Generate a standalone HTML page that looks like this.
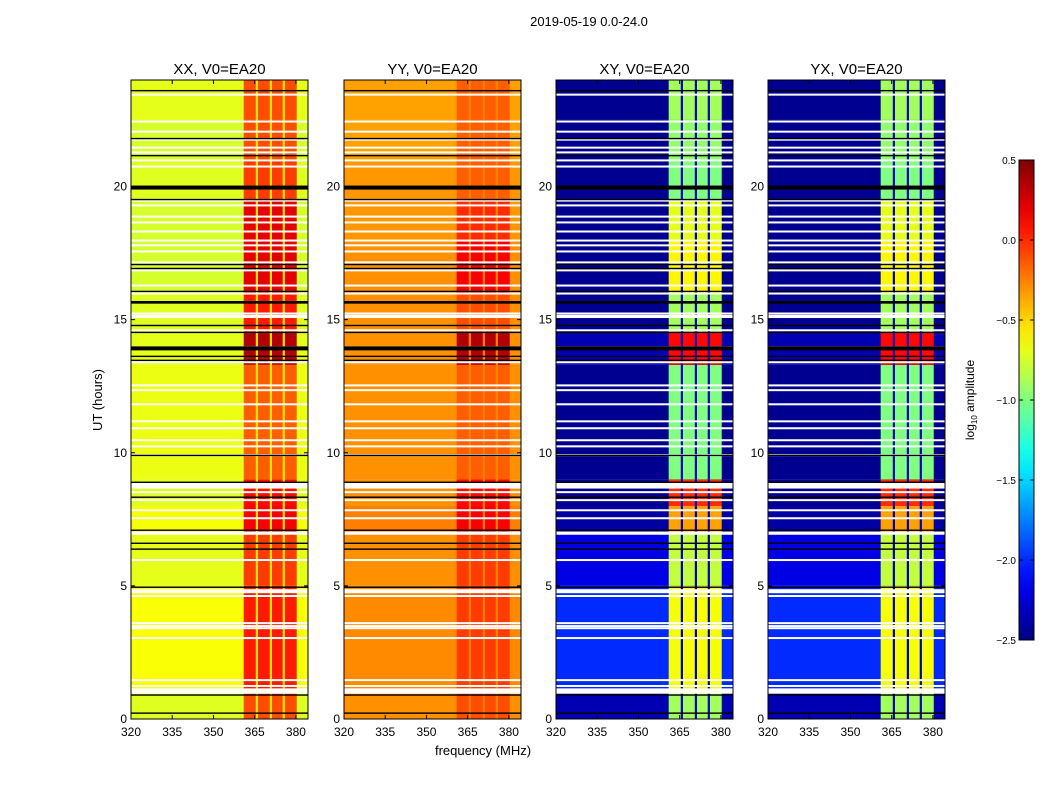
<!DOCTYPE html>
<html><head><meta charset="utf-8">
<style>
html,body{margin:0;padding:0;background:#fff;}
svg{display:block;font-family:"Liberation Sans","DejaVu Sans",sans-serif;}
</style></head>
<body>
<svg id="fig" width="1050" height="800" viewBox="0 0 1050 800">
<defs>
<linearGradient id="jetgrad" x1="0" y1="1" x2="0" y2="0"></linearGradient>
</defs>
<text x="589" y="26" font-size="13" text-anchor="middle">2019-05-19 0.0-24.0</text>
<text x="483" y="755" font-size="13" text-anchor="middle">frequency (MHz)</text>
<text transform="translate(102,400) rotate(-90)" font-size="13" text-anchor="middle">UT (hours)</text>
<g id="panels"></g>
<g id="cbar"></g>
</svg>
<script>
// ---- data ----
const panelTitles = ["XX, V0=EA20", "YY, V0=EA20", "XY, V0=EA20", "YX, V0=EA20"];
const xTicks = [320, 335, 350, 365, 380];
const yTicks = [0, 5, 10, 15, 20];
const cbarTicks = [-2.5, -2.0, -1.5, -1.0, -0.5, 0.0, 0.5];
// time blocks (hour start/end)
const blockStart = [0, 1, 5, 7, 8, 9, 13.3, 14.5, 16, 18, 19.5, 21, 22.5];
const blockEnd   = [1, 5, 7, 8, 9, 13.3, 14.5, 16, 18, 19.5, 21, 22.5, 24];
// background (off-band) log amplitude per block, per panel
const bgXX = [-0.72, -0.64, -0.7, -0.65, -0.72, -0.68, -0.7, -0.72, -0.75, -0.75, -0.72, -0.75, -0.7];
const bgYY = [-0.3, -0.28, -0.3, -0.25, -0.3, -0.3, -0.3, -0.3, -0.3, -0.32, -0.32, -0.35, -0.35];
const bgXY = [-2.35, -2.0, -2.2, -2.4, -2.45, -2.45, -2.35, -2.45, -2.45, -2.45, -2.45, -2.45, -2.45];
const bgYX = [-2.35, -2.0, -2.2, -2.4, -2.45, -2.45, -2.35, -2.45, -2.45, -2.45, -2.45, -2.45, -2.45];
// in-band (361-380 MHz) log amplitude per block, per panel
const bandXX = [-0.1, 0.05, -0.05, 0.15, 0.1, -0.15, 0.35, 0.05, 0.2, 0.2, -0.05, -0.1, -0.1];
const bandYY = [-0.1, -0.05, -0.05, 0.15, 0.1, -0.15, 0.35, -0.1, 0.15, 0.0, -0.15, -0.15, -0.15];
const bandXY = [-0.9, -0.65, -0.8, -0.35, 0.0, -1.0, 0.1, -0.9, -0.6, -0.7, -1.0, -0.95, -0.9];
const bandYX = [-0.9, -0.65, -0.8, -0.35, 0.0, -1.0, 0.1, -0.9, -0.6, -0.7, -1.0, -0.95, -0.9];
// narrow gap columns inside the band
const gapFreq = [365.8, 370.9, 375.6];
const gapVal = [-0.55, -0.25, -2.3, -2.3];
// flagged rows
const whiteRows = [23.45, 22.44, 22.06, 21.76, 21.46, 21.28, 20.98, 20.75, 19.47, 19.29, 18.87, 18.65, 18.31, 17.97, 17.79, 17.56, 17.15, 16.85, 16.28, 15.98, 15.23, 14.6, 13.96, 13.4, 12.53, 12.35, 11.82, 11.18, 10.92, 10.47, 10.24, 9.91, 8.52, 8.22, 7.84, 7.54, 5.97, 4.62, 3.6, 3.49, 3.41, 3.04, 1.46, 1.24];
const thickWhiteRows = [8.78, 6.98, 4.8, 15.12, 1.05];
const thickWhiteWidth = [0.25, 0.12, 0.15, 0.12, 0.2];
const blackRows = [23.6, 21.8, 21.16, 19.51, 17.07, 16.92, 16.06, 14.78, 14.52, 13.62, 13.47, 9.9, 8.89, 8.33, 7.09, 6.6, 6.38, 4.95, 0.9, 0.22];
const thickBlackRows = [19.96, 15.65, 13.92];
const thickBlackWidth = [0.15, 0.1, 0.15];

// ---- geometry ----
const panelLeft = [131, 344, 556, 768];
const PW = 177, PT = 80, PB = 719;
const F0 = 320, F1 = 384.4, H0 = 0, H1 = 24;
const BAND0 = 361, BAND1 = 380.3, GAPW = 0.8;
const NS = "http://www.w3.org/2000/svg";
function xs(i, f){ return panelLeft[i] + (f - F0) / (F1 - F0) * PW; }
function ys(h){ return PB - (h - H0) / (H1 - H0) * (PB - PT); }
function jetT(t){
  t = Math.max(0, Math.min(1, t));
  const r = Math.max(0, Math.min(1, 1.5 - Math.abs(4*t - 3)));
  const g = Math.max(0, Math.min(1, 1.5 - Math.abs(4*t - 2)));
  const b = Math.max(0, Math.min(1, 1.5 - Math.abs(4*t - 1)));
  return `rgb(${Math.round(r*255)},${Math.round(g*255)},${Math.round(b*255)})`;
}
function jet(v){ return jetT((v + 2.5) / 3); }
function mk(tag, attrs, parent){
  const e = document.createElementNS(NS, tag);
  for (const k in attrs) e.setAttribute(k, attrs[k]);
  parent.appendChild(e); return e;
}
const grad = document.getElementById('jetgrad');
for (let i = 0; i <= 20; i++) mk('stop', {offset: i/20, 'stop-color': jetT(i/20)}, grad);

const bgs = [bgXX, bgYY, bgXY, bgYX];
const bands = [bandXX, bandYY, bandXY, bandYX];
const root = document.getElementById('panels');

for (let p = 0; p < 4; p++){
  const g = mk('g', {}, root);
  
  
  const x0 = panelLeft[p];
  for (let b = 0; b < blockStart.length; b++){
    const yT = ys(blockEnd[b]), yB = ys(blockStart[b]);
    const r = mk('rect', {x:x0, y:yT, width:PW, height:yB-yT, fill:jet(bgs[p][b])}, g);
    
    
    const br = mk('rect', {x:xs(p,BAND0), y:yT, width:xs(p,BAND1)-xs(p,BAND0), height:yB-yT, fill:jet(bands[p][b])}, g);
    
    
  }
  for (let k = 0; k < gapFreq.length; k++){
    const gr = mk('rect', {x:xs(p,gapFreq[k]-GAPW/2), y:PT, width:xs(p,GAPW+F0)-x0, height:PB-PT, fill:jet(gapVal[p])}, g);
    
    
  }
  whiteRows.forEach(h => {
    const l = mk('rect', {x:x0, y:ys(h)-1, width:PW, height:2, fill:'#fff'}, g);
    
    
  });
  thickWhiteRows.forEach((h, k) => {
    const hh = thickWhiteWidth[k] / 24 * (PB-PT);
    const l = mk('rect', {x:x0, y:ys(h)-hh/2, width:PW, height:hh, fill:'#fff'}, g);
    
    
  });
  blackRows.forEach(h => {
    const l = mk('rect', {x:x0, y:ys(h)-0.7, width:PW, height:1.4, fill:'#000'}, g);
    
    
  });
  thickBlackRows.forEach((h, k) => {
    const hh = thickBlackWidth[k] / 24 * (PB-PT);
    const l = mk('rect', {x:x0, y:ys(h)-hh/2, width:PW, height:hh, fill:'#000'}, g);
    
    
  });
  const fr = mk('rect', {x:x0, y:PT, width:PW, height:PB-PT, fill:'none', stroke:'#000', 'stroke-width':1}, g);
  
  
  const t = mk('text', {x:x0+PW/2, y:74, 'font-size':15, 'text-anchor':'middle'}, g);
  t.textContent = panelTitles[p];
  
  
  xTicks.forEach(f => {
    const x = xs(p, f);
    mk('line', {x1:x, x2:x, y1:PB, y2:PB-4, stroke:'#000'}, g);
    mk('line', {x1:x, x2:x, y1:PT, y2:PT+4, stroke:'#000'}, g);
    const tl = mk('text', {x:x, y:PB+17, 'font-size':12, 'text-anchor':'middle'}, g);
    tl.textContent = f;
    
    
  });
  yTicks.forEach(h => {
    const y = ys(h);
    mk('line', {x1:x0, x2:x0+4, y1:y, y2:y, stroke:'#000'}, g);
    mk('line', {x1:x0+PW, x2:x0+PW-4, y1:y, y2:y, stroke:'#000'}, g);
    const tl = mk('text', {x:x0-4, y:y+4, 'font-size':12, 'text-anchor':'end'}, g);
    tl.textContent = h;
    
    
  });
}

// colorbar
const cb = document.getElementById('cbar');
const CX = 1019, CW = 15, CT = 160, CB = 640;
const cr = mk('rect', {x:CX, y:CT, width:CW, height:CB-CT, fill:'url(#jetgrad)', stroke:'#000', 'stroke-width':1}, cb);


cbarTicks.forEach(v => {
  const y = CB - (v + 2.5) / 3 * (CB - CT);
  mk('line', {x1:CX, x2:CX+4, y1:y, y2:y, stroke:'#000'}, cb);
  mk('line', {x1:CX+CW, x2:CX+CW-4, y1:y, y2:y, stroke:'#000'}, cb);
  const tl = mk('text', {x:CX-3, y:y+4, 'font-size':10, 'text-anchor':'end'}, cb);
  tl.textContent = (v < 0 ? '\u2212' : '') + Math.abs(v).toFixed(1);
  
  
});
const cl = mk('text', {transform:'translate(974,400) rotate(-90)', 'font-size':12, 'text-anchor':'middle'}, cb);
cl.innerHTML = 'log<tspan font-size="8" dy="3">10</tspan><tspan dy="-3"> amplitude</tspan>';


</script>
</body></html>
